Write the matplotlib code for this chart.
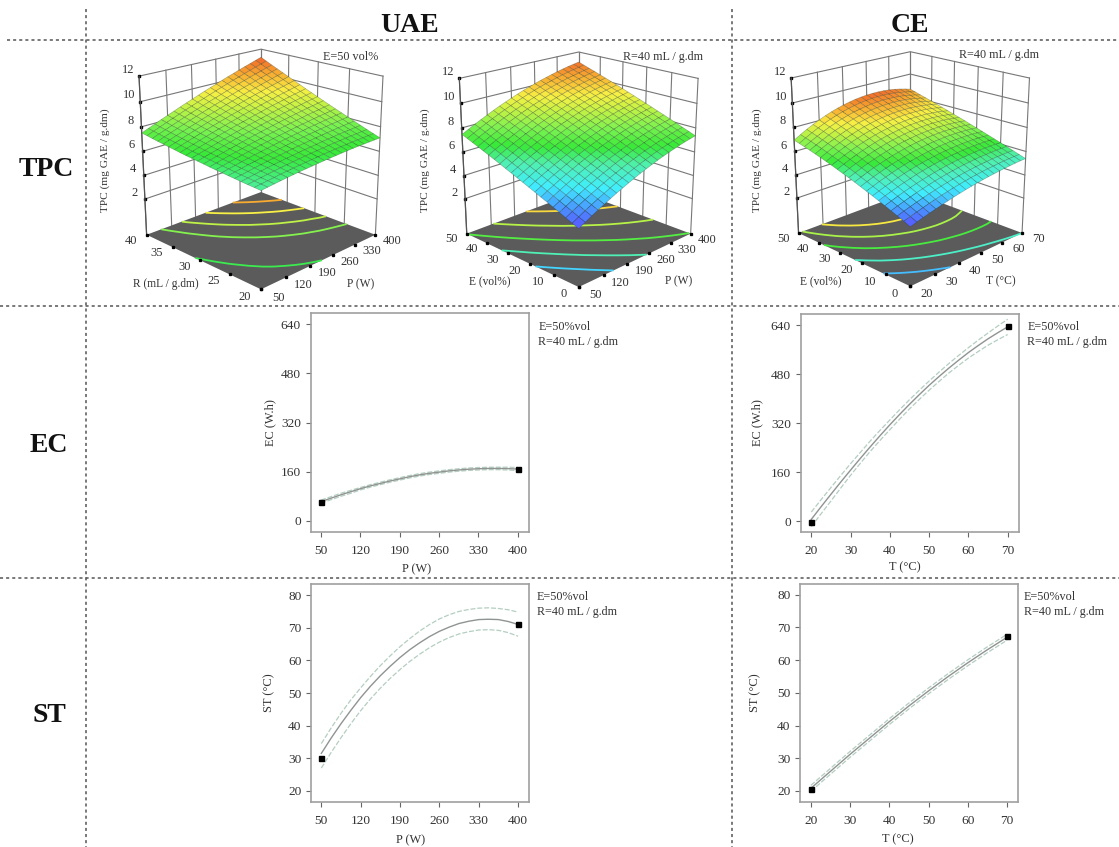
import numpy as np
import matplotlib
matplotlib.use("Agg")
import matplotlib.pyplot as plt
from matplotlib.colors import LinearSegmentedColormap, Normalize
from mpl_toolkits.mplot3d import proj3d

plt.rcParams["font.family"] = ["Liberation Serif", "DejaVu Serif"]

W, H = 1119, 847

P_TICKS = [50, 120, 190, 260, 330, 400]
T_TICKS = [20, 30, 40, 50, 60, 70]
R_TICKS = [20, 25, 30, 35, 40]
E_TICKS = [0, 10, 20, 30, 40, 50]
TPC_TICKS = [2, 4, 6, 8, 10, 12]
TPC_FLOOR = -1.1
EC_TICKS = [0, 160, 320, 480, 640]
ST_TICKS = [20, 30, 40, 50, 60, 70, 80]

# rows: R 20 -> 40, columns: P 50 -> 400
TPC_P_R = [
    [6.40, 6.46, 6.52, 6.58, 6.64, 6.69, 6.74, 6.78, 6.82, 6.86, 6.90, 6.93, 6.96, 6.99, 7.02, 7.04, 7.06, 7.07, 7.08, 7.09, 7.10],
    [6.44, 6.51, 6.57, 6.64, 6.71, 6.76, 6.82, 6.87, 6.92, 6.97, 7.01, 7.06, 7.09, 7.13, 7.17, 7.19, 7.22, 7.24, 7.26, 7.28, 7.29],
    [6.47, 6.55, 6.63, 6.70, 6.77, 6.84, 6.90, 6.96, 7.02, 7.08, 7.13, 7.18, 7.22, 7.27, 7.31, 7.34, 7.38, 7.41, 7.43, 7.46, 7.48],
    [6.51, 6.60, 6.68, 6.77, 6.85, 6.92, 6.99, 7.06, 7.12, 7.19, 7.25, 7.30, 7.35, 7.41, 7.46, 7.50, 7.55, 7.58, 7.61, 7.65, 7.68],
    [6.56, 6.65, 6.74, 6.83, 6.92, 7.00, 7.08, 7.15, 7.23, 7.30, 7.37, 7.43, 7.49, 7.55, 7.61, 7.66, 7.71, 7.76, 7.80, 7.84, 7.88],
    [6.60, 6.70, 6.80, 6.90, 6.99, 7.08, 7.17, 7.25, 7.33, 7.41, 7.49, 7.56, 7.63, 7.70, 7.76, 7.82, 7.88, 7.93, 7.98, 8.03, 8.08],
    [6.65, 6.76, 6.86, 6.97, 7.07, 7.17, 7.26, 7.35, 7.44, 7.53, 7.61, 7.69, 7.77, 7.84, 7.92, 7.98, 8.05, 8.11, 8.17, 8.23, 8.28],
    [6.69, 6.81, 6.93, 7.04, 7.15, 7.25, 7.36, 7.46, 7.55, 7.65, 7.74, 7.82, 7.91, 7.99, 8.07, 8.14, 8.22, 8.29, 8.35, 8.42, 8.48],
    [6.74, 6.87, 6.99, 7.11, 7.23, 7.34, 7.45, 7.56, 7.66, 7.77, 7.86, 7.96, 8.05, 8.14, 8.23, 8.31, 8.40, 8.47, 8.54, 8.62, 8.68],
    [6.80, 6.93, 7.06, 7.19, 7.31, 7.43, 7.55, 7.67, 7.78, 7.89, 7.99, 8.10, 8.20, 8.30, 8.39, 8.48, 8.57, 8.66, 8.73, 8.82, 8.89],
    [6.85, 6.99, 7.13, 7.26, 7.40, 7.52, 7.66, 7.77, 7.89, 8.01, 8.13, 8.24, 8.34, 8.45, 8.56, 8.65, 8.75, 8.84, 8.93, 9.02, 9.10],
    [6.91, 7.06, 7.20, 7.34, 7.48, 7.62, 7.75, 7.89, 8.01, 8.14, 8.26, 8.38, 8.49, 8.61, 8.72, 8.82, 8.93, 9.03, 9.12, 9.22, 9.31],
    [6.96, 7.12, 7.27, 7.42, 7.57, 7.72, 7.86, 8.00, 8.13, 8.26, 8.39, 8.52, 8.64, 8.77, 8.89, 8.99, 9.11, 9.22, 9.32, 9.42, 9.52],
    [7.02, 7.19, 7.35, 7.51, 7.67, 7.82, 7.97, 8.11, 8.25, 8.39, 8.53, 8.67, 8.80, 8.93, 9.06, 9.17, 9.30, 9.41, 9.52, 9.63, 9.74],
    [7.09, 7.26, 7.43, 7.59, 7.76, 7.92, 8.08, 8.23, 8.38, 8.53, 8.67, 8.81, 8.95, 9.09, 9.23, 9.35, 9.48, 9.61, 9.72, 9.84, 9.96],
    [7.15, 7.33, 7.51, 7.68, 7.86, 8.02, 8.19, 8.35, 8.50, 8.66, 8.81, 8.96, 9.11, 9.26, 9.40, 9.53, 9.67, 9.80, 9.92, 10.05, 10.18],
    [7.22, 7.40, 7.59, 7.77, 7.95, 8.12, 8.30, 8.47, 8.63, 8.80, 8.96, 9.12, 9.27, 9.42, 9.57, 9.71, 9.86, 10.00, 10.13, 10.27, 10.40],
    [7.28, 7.48, 7.67, 7.86, 8.05, 8.23, 8.41, 8.59, 8.76, 8.93, 9.10, 9.27, 9.43, 9.59, 9.75, 9.90, 10.05, 10.20, 10.34, 10.48, 10.62],
    [7.35, 7.56, 7.76, 7.95, 8.15, 8.34, 8.53, 8.71, 8.89, 9.07, 9.25, 9.42, 9.59, 9.76, 9.93, 10.08, 10.25, 10.40, 10.55, 10.70, 10.84],
    [7.43, 7.64, 7.84, 8.05, 8.25, 8.45, 8.65, 8.84, 9.03, 9.21, 9.40, 9.58, 9.76, 9.93, 10.11, 10.27, 10.44, 10.60, 10.76, 10.92, 11.07],
    [7.50, 7.72, 7.93, 8.15, 8.36, 8.56, 8.77, 8.97, 9.16, 9.36, 9.55, 9.74, 9.92, 10.11, 10.29, 10.46, 10.64, 10.81, 10.97, 11.14, 11.30],
]
# rows: E 0 -> 50, columns: P 50 -> 400
TPC_P_E = [
    [3.50, 3.79, 4.07, 4.33, 4.59, 4.84, 5.08, 5.30, 5.52, 5.73, 5.93, 6.11, 6.29, 6.46, 6.62, 6.76, 6.90, 7.03, 7.15, 7.25, 7.35],
    [3.72, 4.00, 4.28, 4.55, 4.81, 5.05, 5.29, 5.52, 5.73, 5.94, 6.14, 6.32, 6.50, 6.67, 6.83, 6.97, 7.11, 7.24, 7.35, 7.46, 7.56],
    [3.93, 4.22, 4.50, 4.76, 5.02, 5.26, 5.50, 5.73, 5.94, 6.15, 6.35, 6.53, 6.71, 6.88, 7.03, 7.18, 7.32, 7.44, 7.56, 7.67, 7.76],
    [4.15, 4.43, 4.71, 4.97, 5.23, 5.47, 5.71, 5.94, 6.15, 6.36, 6.56, 6.74, 6.92, 7.08, 7.24, 7.39, 7.52, 7.65, 7.76, 7.87, 7.97],
    [4.36, 4.64, 4.92, 5.18, 5.44, 5.68, 5.92, 6.14, 6.36, 6.57, 6.76, 6.94, 7.12, 7.29, 7.44, 7.59, 7.72, 7.85, 7.97, 8.07, 8.17],
    [4.57, 4.85, 5.13, 5.39, 5.65, 5.89, 6.13, 6.35, 6.57, 6.77, 6.97, 7.15, 7.33, 7.49, 7.65, 7.79, 7.93, 8.05, 8.17, 8.27, 8.37],
    [4.77, 5.06, 5.33, 5.60, 5.85, 6.09, 6.33, 6.55, 6.77, 6.97, 7.17, 7.35, 7.53, 7.69, 7.85, 7.99, 8.12, 8.25, 8.36, 8.47, 8.56],
    [4.98, 5.26, 5.54, 5.80, 6.05, 6.30, 6.53, 6.75, 6.97, 7.17, 7.37, 7.55, 7.72, 7.89, 8.04, 8.19, 8.32, 8.45, 8.56, 8.66, 8.76],
    [5.18, 5.46, 5.74, 6.00, 6.25, 6.50, 6.73, 6.95, 7.17, 7.37, 7.57, 7.75, 7.92, 8.09, 8.24, 8.38, 8.52, 8.64, 8.75, 8.86, 8.95],
    [5.38, 5.66, 5.94, 6.20, 6.45, 6.70, 6.93, 7.15, 7.37, 7.57, 7.76, 7.94, 8.12, 8.28, 8.43, 8.58, 8.71, 8.83, 8.95, 9.05, 9.14],
    [5.58, 5.86, 6.14, 6.40, 6.65, 6.89, 7.13, 7.35, 7.56, 7.76, 7.96, 8.14, 8.31, 8.47, 8.63, 8.77, 8.90, 9.02, 9.14, 9.24, 9.33],
    [5.78, 6.06, 6.33, 6.59, 6.85, 7.09, 7.32, 7.54, 7.75, 7.96, 8.15, 8.33, 8.50, 8.66, 8.82, 8.96, 9.09, 9.21, 9.32, 9.43, 9.52],
    [5.97, 6.25, 6.53, 6.79, 7.04, 7.28, 7.51, 7.73, 7.94, 8.15, 8.34, 8.52, 8.69, 8.85, 9.00, 9.14, 9.28, 9.40, 9.51, 9.61, 9.70],
    [6.17, 6.45, 6.72, 6.98, 7.23, 7.47, 7.70, 7.92, 8.13, 8.33, 8.53, 8.71, 8.88, 9.04, 9.19, 9.33, 9.46, 9.58, 9.69, 9.79, 9.89],
    [6.36, 6.64, 6.91, 7.17, 7.42, 7.66, 7.89, 8.11, 8.32, 8.52, 8.71, 8.89, 9.06, 9.22, 9.37, 9.51, 9.64, 9.76, 9.87, 9.97, 10.07],
    [6.55, 6.83, 7.10, 7.36, 7.61, 7.85, 8.08, 8.29, 8.51, 8.70, 8.90, 9.08, 9.24, 9.41, 9.56, 9.70, 9.83, 9.94, 10.06, 10.16, 10.25],
    [6.73, 7.01, 7.29, 7.54, 7.79, 8.03, 8.26, 8.48, 8.69, 8.89, 9.08, 9.26, 9.43, 9.59, 9.74, 9.87, 10.00, 10.12, 10.23, 10.33, 10.42],
    [6.92, 7.20, 7.47, 7.72, 7.97, 8.21, 8.44, 8.66, 8.87, 9.07, 9.26, 9.44, 9.61, 9.76, 9.91, 10.05, 10.18, 10.30, 10.41, 10.51, 10.60],
    [7.10, 7.38, 7.65, 7.91, 8.15, 8.39, 8.62, 8.84, 9.05, 9.25, 9.44, 9.61, 9.78, 9.94, 10.09, 10.23, 10.36, 10.47, 10.58, 10.68, 10.77],
    [7.28, 7.56, 7.83, 8.09, 8.33, 8.57, 8.80, 9.02, 9.23, 9.42, 9.61, 9.79, 9.96, 10.11, 10.26, 10.40, 10.53, 10.65, 10.75, 10.85, 10.94],
    [7.46, 7.74, 8.01, 8.26, 8.51, 8.75, 8.98, 9.19, 9.40, 9.60, 9.79, 9.96, 10.13, 10.29, 10.43, 10.57, 10.70, 10.82, 10.93, 11.02, 11.11],
]
# rows: E 0 -> 50, columns: T 20 -> 70
TPC_T_E = [
    [3.60, 3.76, 3.91, 4.05, 4.18, 4.31, 4.43, 4.55, 4.66, 4.76, 4.85, 4.94, 5.02, 5.09, 5.15, 5.21, 5.26, 5.31, 5.35, 5.38, 5.40],
    [3.82, 3.98, 4.13, 4.28, 4.42, 4.55, 4.68, 4.79, 4.90, 5.00, 5.09, 5.18, 5.25, 5.32, 5.38, 5.43, 5.48, 5.52, 5.55, 5.57, 5.58],
    [4.03, 4.20, 4.36, 4.51, 4.65, 4.79, 4.91, 5.03, 5.14, 5.24, 5.33, 5.41, 5.48, 5.55, 5.60, 5.65, 5.69, 5.72, 5.74, 5.76, 5.76],
    [4.23, 4.41, 4.57, 4.73, 4.88, 5.01, 5.14, 5.26, 5.37, 5.47, 5.56, 5.64, 5.71, 5.77, 5.83, 5.87, 5.90, 5.92, 5.94, 5.94, 5.94],
    [4.43, 4.61, 4.79, 4.95, 5.10, 5.24, 5.37, 5.49, 5.60, 5.70, 5.79, 5.87, 5.94, 6.00, 6.04, 6.08, 6.11, 6.12, 6.13, 6.13, 6.11],
    [4.63, 4.82, 4.99, 5.16, 5.32, 5.46, 5.60, 5.72, 5.83, 5.93, 6.02, 6.09, 6.16, 6.21, 6.26, 6.29, 6.31, 6.32, 6.32, 6.31, 6.28],
    [4.82, 5.01, 5.20, 5.37, 5.53, 5.68, 5.81, 5.94, 6.05, 6.15, 6.24, 6.32, 6.38, 6.43, 6.47, 6.50, 6.51, 6.52, 6.51, 6.49, 6.45],
    [5.00, 5.20, 5.40, 5.57, 5.74, 5.89, 6.03, 6.16, 6.27, 6.37, 6.46, 6.53, 6.60, 6.64, 6.68, 6.70, 6.71, 6.71, 6.69, 6.66, 6.62],
    [5.18, 5.39, 5.59, 5.77, 5.94, 6.10, 6.24, 6.37, 6.49, 6.59, 6.67, 6.75, 6.81, 6.85, 6.89, 6.90, 6.91, 6.90, 6.88, 6.84, 6.79],
    [5.36, 5.57, 5.78, 5.97, 6.14, 6.30, 6.45, 6.58, 6.70, 6.80, 6.89, 6.96, 7.02, 7.06, 7.09, 7.10, 7.10, 7.09, 7.06, 7.01, 6.95],
    [5.53, 5.75, 5.96, 6.16, 6.34, 6.50, 6.65, 6.79, 6.91, 7.01, 7.10, 7.17, 7.22, 7.26, 7.29, 7.30, 7.29, 7.27, 7.24, 7.18, 7.12],
    [5.69, 5.92, 6.14, 6.35, 6.53, 6.70, 6.85, 6.99, 7.11, 7.21, 7.30, 7.37, 7.43, 7.47, 7.49, 7.49, 7.48, 7.46, 7.41, 7.35, 7.28],
    [5.85, 6.09, 6.32, 6.53, 6.72, 6.89, 7.05, 7.19, 7.31, 7.41, 7.50, 7.57, 7.63, 7.66, 7.68, 7.68, 7.67, 7.64, 7.59, 7.52, 7.43],
    [6.01, 6.26, 6.49, 6.70, 6.90, 7.08, 7.24, 7.38, 7.51, 7.61, 7.70, 7.77, 7.82, 7.86, 7.87, 7.87, 7.85, 7.81, 7.76, 7.68, 7.59],
    [6.16, 6.42, 6.65, 6.88, 7.08, 7.26, 7.43, 7.57, 7.70, 7.81, 7.90, 7.97, 8.02, 8.05, 8.06, 8.06, 8.03, 7.99, 7.93, 7.85, 7.75],
    [6.30, 6.57, 6.82, 7.04, 7.25, 7.44, 7.61, 7.76, 7.89, 8.00, 8.09, 8.16, 8.21, 8.24, 8.25, 8.24, 8.21, 8.16, 8.09, 8.01, 7.90],
    [6.44, 6.72, 6.97, 7.21, 7.42, 7.62, 7.79, 7.94, 8.07, 8.18, 8.27, 8.34, 8.39, 8.42, 8.43, 8.42, 8.39, 8.33, 8.26, 8.16, 8.05],
    [6.58, 6.86, 7.12, 7.37, 7.59, 7.78, 7.96, 8.12, 8.25, 8.37, 8.46, 8.53, 8.58, 8.61, 8.61, 8.60, 8.56, 8.50, 8.42, 8.32, 8.20],
    [6.71, 7.00, 7.27, 7.52, 7.75, 7.95, 8.13, 8.29, 8.43, 8.55, 8.64, 8.71, 8.76, 8.79, 8.79, 8.77, 8.73, 8.67, 8.58, 8.47, 8.34],
    [6.83, 7.13, 7.41, 7.67, 7.90, 8.11, 8.30, 8.46, 8.60, 8.72, 8.82, 8.89, 8.94, 8.96, 8.96, 8.94, 8.90, 8.83, 8.74, 8.63, 8.49],
    [6.95, 7.26, 7.55, 7.81, 8.05, 8.27, 8.46, 8.63, 8.77, 8.89, 8.99, 9.06, 9.11, 9.13, 9.13, 9.11, 9.06, 8.99, 8.89, 8.77, 8.63],
]
LEVELS_P_R = [6.9, 8.0, 8.7, 9.5, 10.4]
LEVELS_P_E = [5.0, 6.2, 7.4, 8.6, 9.8]
LEVELS_T_E = [4.5, 5.4, 6.3, 7.15, 8.0]

P_LINE = [50, 67.5, 85, 102.5, 120, 137.5, 155, 172.5, 190, 207.5, 225,
          242.5, 260, 277.5, 295, 312.5, 330, 347.5, 365, 382.5, 400]
T_LINE = [20, 22.5, 25, 27.5, 30, 32.5, 35, 37.5, 40, 42.5, 45,
          47.5, 50, 52.5, 55, 57.5, 60, 62.5, 65, 67.5, 70]

EC_UAE_MID = [63, 74, 85, 95, 105, 114, 122, 130, 137, 144, 150,
              155, 159, 163, 166, 168.5, 170, 171, 171, 170.5, 169]
EC_UAE_UP = [68, 79, 90, 99.5, 109, 118, 126, 134, 141, 148, 154,
             159, 163, 167, 170, 172.5, 174, 175, 175, 175, 174]
EC_UAE_LOW = [58, 69, 80, 90, 101, 110, 118, 126, 133, 140, 146,
              151, 155, 159, 162, 164.5, 166, 167, 167, 166, 164]
EC_UAE_PTS = [63, 170]

ST_UAE_MID = [31.5, 36.2, 40.6, 44.7, 48.6, 52.1, 55.3, 58.2, 60.9, 63.3, 65.4,
              67.3, 68.9, 70.2, 71.3, 72.0, 72.5, 72.6, 72.5, 71.9, 71.0]
ST_UAE_UP = [34.5, 39.3, 43.8, 47.9, 51.6, 55.1, 58.4, 61.4, 64.2, 66.7, 69,
             71, 72.7, 74, 75, 75.6, 76, 76.1, 75.9, 75.5, 74.8]
ST_UAE_LOW = [27, 31.8, 36.3, 40.6, 44.6, 48.2, 51.5, 54.5, 57.2, 59.7, 61.9,
              63.9, 65.6, 67, 68.1, 68.8, 69.3, 69.4, 69.2, 68.5, 67.4]
ST_UAE_PTS = [30, 71]

EC_CE_MID = [6, 47.5, 88, 128, 167, 205.5, 243, 279.5, 315, 349, 382,
             413.5, 444, 472.5, 500, 526, 551, 574, 596, 616, 635]
EC_CE_UP = [30, 70.5, 110, 149.5, 188, 225, 262, 297, 331, 364.5, 397,
            428, 458, 487, 515, 541.5, 567, 591.5, 615, 638, 660]
EC_CE_LOW = [-18, 24.5, 66, 108.5, 150, 189.5, 228, 264, 299, 333.5, 367,
             398, 428, 456.5, 484, 509, 533, 554.5, 575, 593, 610]
EC_CE_PTS = [-2, 638]

ST_CE_MID = [20.8, 23.4, 26, 28.6, 31.2, 33.7, 36.2, 38.7, 41.2, 43.6, 46,
             48.3, 50.6, 52.8, 55, 57.1, 59.2, 61.2, 63.2, 65.1, 67]
ST_CE_UP = [21.7, 24.3, 26.9, 29.5, 32.1, 34.6, 37.1, 39.6, 42.1, 44.5, 46.9,
            49.2, 51.5, 53.7, 55.9, 58, 60.1, 62.1, 64.1, 66, 67.9]
ST_CE_LOW = [19.9, 22.5, 25.1, 27.7, 30.3, 32.8, 35.3, 37.8, 40.3, 42.7, 45.1,
             47.4, 49.7, 51.9, 54.1, 56.2, 58.3, 60.3, 62.3, 64.2, 66.1]
ST_CE_PTS = [20.5, 67.5]

rsm = LinearSegmentedColormap.from_list("rsm", [
    (0.00, "#5c50ff"), (0.10, "#4a90ff"), (0.22, "#40eeff"), (0.35, "#50f0b0"),
    (0.45, "#38ea38"), (0.55, "#78f250"), (0.68, "#ccf244"), (0.76, "#f8f044"),
    (0.88, "#f8a830"), (1.00, "#f05828"),
])

GRID = "#777777"
DARK = "#333333"


def px_rect(left, top, right, bottom):
    return [left / W, 1 - bottom / H, (right - left) / W, (bottom - top) / H]


def label3d(ax, x, y, z, s, size):
    # projected by hand so the label stays an ordinary 2D text
    px, py, _ = proj3d.proj_transform(x, y, z, ax.get_proj())
    ax.text2D(px, py, s, transform=ax.transData, fontsize=size, color=DARK,
              ha="center", va="center")


def surface(cx, cy, size, x_ticks, y_ticks, table, z_range, levels, xlabel, ylabel, xlabel_at, ylabel_at):
    ax = fig.add_axes(
        px_rect(cx - 0.5135 * size, cy - 0.4865 * size, cx + 0.4865 * size, cy + 0.5135 * size),
        projection="3d", computed_zorder=False,
    )
    ax.set_proj_type("persp", focal_length=0.58)
    ax.view_init(elev=19.7, azim=225)
    ax.set_box_aspect((1, 1, 1.008))
    ax.set_axis_off()
    ax.patch.set_visible(False)

    x0, x1 = x_ticks[0], x_ticks[-1]
    y0, y1 = y_ticks[0], y_ticks[-1]
    dx, dy = x1 - x0, y1 - y0
    z0, z1 = TPC_FLOOR, TPC_TICKS[-1]
    ax.set_xlim(x0, x1, view_margin=0)
    ax.set_ylim(y0, y1, view_margin=0)
    ax.set_zlim(z0, z1, view_margin=0)

    # back walls
    for x in x_ticks:
        ax.plot([x, x], [y1, y1], [z0, z1], color=GRID, lw=0.8, zorder=1)
    for y in y_ticks:
        ax.plot([x1, x1], [y, y], [z0, z1], color=GRID, lw=0.8, zorder=1)
    for z in TPC_TICKS:
        ax.plot([x0, x1, x1], [y1, y1, y0], [z, z, z], color=GRID, lw=0.8, zorder=1)
        ax.plot([x0], [y1], [z], marker="s", ms=1.6, color="k", zorder=1)
        label3d(ax, x0 - 0.045 * dx, y1 + 0.045 * dy, z + 0.5, str(z), 9)
    ax.plot([x0, x0], [y1, y1], [z0, z1], color="#555555", lw=0.9, zorder=1)

    # floor with the contours of the surface
    ax.plot_surface(np.array([[x0, x1], [x0, x1]]), np.array([[y0, y0], [y1, y1]]),
                    np.full((2, 2), z0), color="#5b5b5b", shade=False, zorder=2)
    z_table = np.array(table)
    n = z_table.shape[0]
    X, Y = np.meshgrid(np.linspace(x0, x1, n), np.linspace(y0, y1, n))
    norm = Normalize(*z_range)
    ax.contour(X, Y, z_table, levels=levels, zdir="z", offset=z0, cmap=rsm, norm=norm,
               linewidths=1.3, zorder=3)
    ax.plot_surface(X, Y, z_table, rstride=1, cstride=1, cmap=rsm, norm=norm, shade=False,
                    edgecolor=(0.1, 0.18, 0.1, 0.34), linewidth=0.45, zorder=4)

    for x in x_ticks:
        ax.plot([x], [y0], [z0], marker="s", ms=1.4, color="k", zorder=3)
        label3d(ax, x, y0 - 0.13 * dy, z0, str(x), 9)
    for y in y_ticks:
        ax.plot([x0], [y], [z0], marker="s", ms=1.4, color="k", zorder=3)
        label3d(ax, x0 - 0.12 * dx, y, z0, str(y), 9)
    label3d(ax, x0 + xlabel_at[0] * dx, y0 - xlabel_at[1] * dy, z0, xlabel, 8.3)
    label3d(ax, x0 - ylabel_at[1] * dx, y0 + ylabel_at[0] * dy, z0, ylabel, 8.3)
    return ax


def response(rect, x_line, mid, up, low, pts, x_ticks, y_ticks, xlim, ylim,
             xlabel, ylabel, xlabel_at, ylabel_x):
    left, top, right, bottom = rect
    ax = fig.add_axes(px_rect(*rect))
    ax.plot(x_line, up, color="#b4cec0", lw=0.9, ls=(0, (4, 1.5)))
    ax.plot(x_line, low, color="#b4cec0", lw=0.9, ls=(0, (4, 1.5)))
    ax.plot(x_line, mid, color="#8f9492", lw=1.0)
    ax.plot([x_line[0], x_line[-1]], pts, ls="none", marker="s", ms=3.6, color="k")
    ax.set_xlim(*xlim)
    ax.set_ylim(*ylim)
    ax.set_xticks(x_ticks)
    ax.set_yticks(y_ticks)
    ax.tick_params(length=3.5, width=0.8, color="#666666", labelcolor=DARK, labelsize=9.6)
    ax.tick_params(axis="x", pad=5.5)
    ax.tick_params(axis="y", pad=3.5)
    for spine in ax.spines.values():
        spine.set_color("#a0a0a0")
        spine.set_linewidth(1.2)
    ax.set_xlabel(xlabel, fontsize=8.9, color=DARK, va="center")
    ax.set_ylabel(ylabel, fontsize=8.9, color=DARK, va="center")
    ax.xaxis.set_label_coords((xlabel_at[0] - left) / (right - left),
                              (bottom - xlabel_at[1]) / (bottom - top))
    ax.yaxis.set_label_coords((ylabel_x - left) / (right - left), 0.5)
    return ax


fig = plt.figure(figsize=(W / 100, H / 100), dpi=100, facecolor="white")

surface(261, 158, 281.5, P_TICKS, R_TICKS, TPC_P_R, (3.5, 11.4), LEVELS_P_R, "P (W)", "R (mL / g.dm)",
        (0.433, 0.343), (0.415, 0.325))
surface(578.7, 158.5, 275.5, P_TICKS, E_TICKS, TPC_P_E, (3.5, 11.4), LEVELS_P_E, "P (W)", "E (vol%)",
        (0.44, 0.35), (0.40, 0.31))
surface(910.3, 158, 275, T_TICKS, E_TICKS, TPC_T_E, (3.6, 9.3), LEVELS_T_E, "T (°C)", "E (vol%)",
        (0.406, 0.316), (0.40, 0.31))

response((310.7, 313, 528.7, 532), P_LINE, EC_UAE_MID, EC_UAE_UP, EC_UAE_LOW, EC_UAE_PTS,
         P_TICKS, EC_TICKS, (31.7, 419.6), (-35.8, 676.8), "P (W)", "EC (W.h)", (416.7, 569), 270)
response((311, 584, 529.3, 802), P_LINE, ST_UAE_MID, ST_UAE_UP, ST_UAE_LOW, ST_UAE_PTS,
         P_TICKS, ST_TICKS, (31.6, 419.9), (16.6, 83.4), "P (W)", "ST (°C)", (411, 840), 269)
response((800.7, 314, 1018.7, 532), T_LINE, EC_CE_MID, EC_CE_UP, EC_CE_LOW, EC_CE_PTS,
         T_TICKS, EC_TICKS, (17.3, 72.8), (-35.3, 677), "T (°C)", "EC (W.h)", (905, 567), 757)
response((800.3, 583.7, 1018, 802), T_LINE, ST_CE_MID, ST_CE_UP, ST_CE_LOW, ST_CE_PTS,
         T_TICKS, ST_TICKS, (17.3, 72.8), (16.6, 83.4), "T (°C)", "ST (°C)", (898, 839.5), 755)

# table lines, headings and notes, in pixel coordinates
ov = fig.add_axes([0, 0, 1, 1], zorder=5)
ov.set_xlim(0, W)
ov.set_ylim(H, 0)
ov.axis("off")
dots = dict(color="#555555", lw=1.1, ls=(0, (2, 2)))
ov.plot([85.7, 85.7], [9, H], **dots)
ov.plot([732, 732], [9, H], **dots)
ov.plot([7, W], [39.7, 39.7], **dots)
ov.plot([0, W], [306, 306], **dots)
ov.plot([0, W], [578, 578], **dots)

head = dict(fontsize=20, fontweight="bold", color="#111111", ha="center", va="center")
ov.text(410, 26, "UAE", **head)
ov.text(910, 26, "CE", **head)
ov.text(46, 169, "TPC", **head)
ov.text(49, 445, "EC", **head)
ov.text(49, 715, "ST", **head)

note = dict(fontsize=8.7, color=DARK, ha="left", va="center")
ov.text(323, 56.7, "E=50 vol%", **note)
ov.text(623, 56.7, "R=40 mL / g.dm", **note)
ov.text(959, 55, "R=40 mL / g.dm", **note)
for x, y in [(538.3, 326.7), (536.7, 597.3), (1027.3, 326.7), (1024, 597)]:
    ov.text(x, y, "E=50%vol", **note)
    ov.text(x, y + 15, "R=40 mL / g.dm", **note)

side = dict(fontsize=8.1, color=DARK, ha="center", va="center", rotation=90)
ov.text(105, 160, "TPC (mg GAE / g.dm)", **side)
ov.text(425, 160, "TPC (mg GAE / g.dm)", **side)
ov.text(757.3, 160, "TPC (mg GAE / g.dm)", **side)

fig.savefig("out.png", dpi=100)
